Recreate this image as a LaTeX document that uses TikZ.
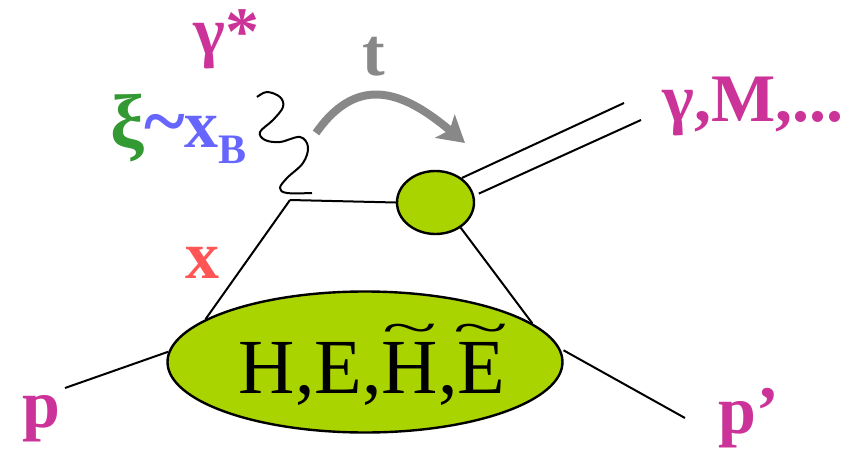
\documentclass[tikz,border=0pt]{standalone}
\usepackage{fontspec}
\setmainfont{Liberation Serif}
\usetikzlibrary{arrows.meta,shapes.geometric}
\definecolor{dvcsmag}{RGB}{204,51,153}
\definecolor{dvcsgreen}{RGB}{51,153,51}
\definecolor{dvcsblue}{RGB}{102,102,255}
\definecolor{dvcsred}{RGB}{255,85,85}
\definecolor{dvcsgray}{RGB}{136,136,136}
\definecolor{blobfill}{RGB}{170,212,0}
\newcommand{\tildeover}[1]{\setbox0\hbox{#1}\rlap{\raisebox{0.64em}{\makebox[\wd0]{\scalebox{1.3}[0.6]{\textasciitilde}}}}#1}

\begin{document}
\begin{tikzpicture}[
    x=0.5pt, y=0.5pt,
    blob/.style={ellipse, draw=black, line width=1.2pt, fill=blobfill, inner sep=0pt},
    leg/.style={line width=1pt},
    lbl/.style={font=\fontsize{34}{40}\selectfont\bfseries, inner sep=0pt, anchor=base west},
    tarrow/.style={-{Stealth[length=13pt,width=15pt,inset=3pt]}, line width=4pt, dvcsgray}
]
\useasboundingbox (0,0) rectangle (848,-450);

\node[blob, minimum width=197.5pt, minimum height=70.5pt] (gpd) at (365,-362) {};
\node[blob, minimum width=38.5pt, minimum height=31.5pt] (hard) at (435.5,-202.5) {};
\node[font=\fontsize{39}{46}\selectfont, inner sep=0pt, anchor=base] (gpdtxt) at (372,-393)
    {H,E,\tildeover{H},\tildeover{E}};

\coordinate (qv) at (290,-200);
\coordinate (pin) at (65,-388);
\coordinate (pout) at (685,-418);
\coordinate (fs1) at (624,-103);
\coordinate (fs2) at (641,-120);
\coordinate (tstart) at (316,-133);
\coordinate (tend) at (465,-143);

\draw[leg] (pin) -- (gpd.177);
\draw[leg, shorten <=2pt] (gpd.4) -- (pout);
\draw[leg] (qv) -- (gpd.165);
\draw[leg] (qv) -- (hard.west);
\draw[leg] (hard.-45) -- (gpd.13);
\draw[leg] (hard.43) -- (fs1);
\draw[leg, shorten <=2.5pt] (hard.10) -- (fs2);

% virtual photon
\draw[leg] plot[smooth, tension=0.6] coordinates {(257,-97) (267,-92) (280,-97) (283,-107)
    (273,-120) (260,-132) (265,-140) (280,-142) (300,-137) (308,-147) (303,-163)
    (287,-178) (280,-188) (287,-193) (312,-193)};

\draw[tarrow] (tstart) to[out=55, in=140, looseness=1.3] (tend);

\node[lbl, text=dvcsmag] (gstar) at (193,-54) {γ*};
\node[lbl, text=dvcsgray] (tlbl) at (362,-75) {t};
\node[lbl] (xilbl) at (110,-147) {\textcolor{dvcsgreen}{\fontsize{38}{44}\selectfont ξ}\textcolor{dvcsblue}{\scalebox{1.15}{\textasciitilde}x\raisebox{-8pt}{\fontsize{21}{24}\selectfont B}}};
\node[lbl, text=dvcsmag] (final) at (662,-121) {γ,M,...};
\node[lbl, text=dvcsred] (xlbl) at (185,-278) {x};
\node[lbl, text=dvcsmag] (plbl) at (22,-427) {p};
\node[lbl, text=dvcsmag] (pplbl) at (718,-433) {p’};
\end{tikzpicture}
\end{document}
